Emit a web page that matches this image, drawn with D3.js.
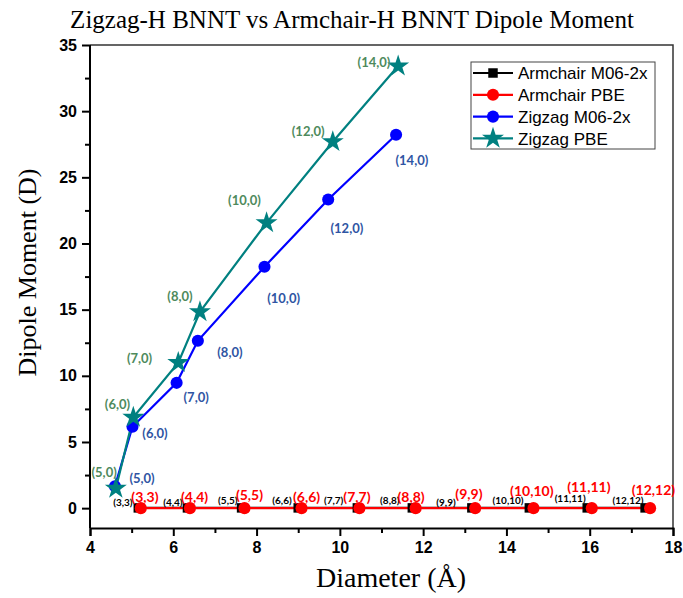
<!DOCTYPE html>
<html><head><meta charset="utf-8">
<script src="https://cdn.jsdelivr.net/npm/d3@7"></script>
<style>body{margin:0;background:#fff}svg{display:block}</style>
</head><body><svg id="c" width="683" height="598"></svg>
<script>
// ---- data ----
const zigzagNames = ["(5,0)","(6,0)","(7,0)","(8,0)","(10,0)","(12,0)","(14,0)"];
const zzM06x = [4.60, 5.02, 6.08, 6.59, 8.19, 9.72, 11.35];
const zzM06y = [1.66, 6.15, 9.47, 12.65, 18.24, 23.33, 28.22];
const zzPBEx = [4.62, 5.04, 6.12, 6.64, 8.24, 9.83, 11.40];
const zzPBEy = [1.49, 6.86, 11.00, 14.84, 21.56, 27.69, 33.41];

const armNames = ["(3,3)","(4,4)","(5,5)","(6,6)","(7,7)","(8,8)","(9,9)","(10,10)","(11,11)","(12,12)"];
const acM06x = [5.16, 6.34, 7.64, 9.00, 10.42, 11.74, 13.17, 14.55, 15.94, 17.33];
const acM06y = [0.02, 0.02, 0.02, 0.02, 0.02, 0.02, 0.02, 0.02, 0.02, 0.02];
const acPBEx = [5.22, 6.40, 7.71, 9.08, 10.47, 11.82, 13.25, 14.65, 16.05, 17.45];
const acPBEy = [0.00, 0.00, 0.00, 0.00, 0.00, 0.00, 0.00, 0.00, 0.00, 0.00];

// annotation anchors (data units)
const zzM06LabX = [5.25, 5.56, 6.55, 7.36, 8.65, 10.17, 11.73];
const zzM06LabY = [2.27, 5.67, 8.39, 11.79, 15.87, 21.16, 26.30];
const zzPBELabX = [4.34, 4.66, 5.19, 6.16, 7.71, 9.24, 10.82];
const zzPBELabY = [2.72, 7.86, 11.34, 16.02, 23.28, 28.50, 33.71];
const acPBELabX = [5.32, 6.51, 7.83, 9.20, 10.41, 11.71, 13.10, 14.61, 15.98, 17.53];
const acPBELabY = [0.83, 0.83, 0.98, 0.83, 0.83, 0.83, 1.06, 1.28, 1.58, 1.40];
const acM06LabX = [4.79, 5.99, 7.31, 8.61, 9.85, 11.20, 12.55, 14.04, 15.53, 16.92];
const acM06LabY = [0.45, 0.45, 0.60, 0.60, 0.60, 0.60, 0.45, 0.55, 0.75, 0.55];

const xTicks = [4, 6, 8, 10, 12, 14, 16, 18];
const yTicks = [0, 5, 10, 15, 20, 25, 30, 35];
const legendNames = ["Armchair M06-2x", "Armchair PBE", "Zigzag M06-2x", "Zigzag PBE"];

// ---- layout ----
const svg = d3.select("#c");
const L = 90, R = 673, T = 45, B = 528;
const x = d3.scaleLinear().domain([4, 18]).range([L, R]);
const y = d3.scaleLinear().domain([-1.5, 35]).range([B, T]);

const col = {blk:"#000000", red:"#ff0000", blue:"#0000ff", teal:"#008080", lblBlue:"#2f55a3", lblGreen:"#4e8a5c"};

// frame (top/right)
svg.append("path").attr("d", `M${L},${T}H${R}V${B}`).attr("fill","none").attr("stroke","#333").attr("stroke-width",1.5);

// axes
const xAxis = svg.append("g").attr("transform", `translate(0,${B})`)
  .call(d3.axisBottom(x).tickValues(xTicks).tickSize(8).tickPadding(6).tickFormat(d3.format("d")));
const xMinor = svg.append("g").attr("transform", `translate(0,${B})`)
  .call(d3.axisBottom(x).tickValues(d3.range(5, 18, 2)).tickSize(5).tickFormat(""));
const yAxis = svg.append("g").attr("transform", `translate(${L},0)`)
  .call(d3.axisLeft(y).tickValues(yTicks).tickSize(8).tickPadding(5).tickFormat(d3.format("d")));
const yMinor = svg.append("g").attr("transform", `translate(${L},0)`)
  .call(d3.axisLeft(y).tickValues(d3.range(2.5, 35, 5)).tickSize(5).tickFormat(""));
[xAxis, xMinor, yAxis, yMinor].forEach(g => {
  g.selectAll(".domain").attr("stroke","#000").attr("stroke-width",2);
  g.selectAll(".tick line").attr("stroke","#000").attr("stroke-width",2);
  g.selectAll("text").attr("font-family","'Liberation Sans', Arial, sans-serif")
    .attr("font-weight","bold").attr("font-size",16).attr("fill","#000");
});
yAxis.select(".domain").attr("d", `M0,${T}V${B}`);
yMinor.select(".domain").remove();
xMinor.select(".domain").remove();

// title & axis titles
const serif = "'Liberation Serif', 'Times New Roman', serif";
svg.append("text").attr("x", 352).attr("y", 28).attr("text-anchor","middle")
  .attr("font-family", serif).attr("font-size",25)
  .text("Zigzag-H BNNT vs Armchair-H BNNT Dipole Moment");
svg.append("text").attr("x", 391).attr("y", 587).attr("text-anchor","middle")
  .attr("font-family", serif).attr("font-size",28)
  .text("Diameter (Å)");
svg.append("text").attr("transform", `translate(36,${(T+B)/2-14}) rotate(-90)`).attr("text-anchor","middle")
  .attr("font-family", serif).attr("font-size",26)
  .text("Dipole Moment (D)");

// ---- series ----
const line = d3.line().x(d => x(d[0])).y(d => y(d[1]));
const zip = (a, b) => a.map((v, i) => [v, b[i]]);

const series = [
  {pts: zip(acM06x, acM06y), color: col.blk, shape: "square"},
  {pts: zip(acPBEx, acPBEy), color: col.red, shape: "circle"},
  {pts: zip(zzM06x, zzM06y), color: col.blue, shape: "circle"},
  {pts: zip(zzPBEx, zzPBEy), color: col.teal, shape: "star"},
];
const symFor = s => s === "square" ? d3.symbol(d3.symbolSquare, 90)
  : s === "star" ? d3.symbol(d3.symbolStar, 150) : d3.symbol(d3.symbolCircle, 115);

series.forEach(s => {
  svg.append("path").attr("d", line(s.pts)).attr("fill","none").attr("stroke", s.color).attr("stroke-width",2.2);
});
series.forEach(s => {
  svg.append("g").selectAll("path").data(s.pts).join("path")
    .attr("transform", d => `translate(${x(d[0])},${y(d[1])})`)
    .attr("d", symFor(s.shape)()).attr("fill", s.color);
});

// ---- annotations ----
function labels(names, lx, ly, color, size) {
  svg.append("g").selectAll("text").data(names).join("text")
    .attr("x", (d, i) => x(lx[i])).attr("y", (d, i) => y(ly[i]))
    .attr("dy", "0.35em").attr("text-anchor","middle")
    .attr("font-family","Lato, 'Open Sans', sans-serif").attr("font-weight","bold")
    .attr("font-size", size).attr("fill", color).text(d => d);
}
labels(zigzagNames, zzM06LabX, zzM06LabY, col.lblBlue, 13);
labels(zigzagNames, zzPBELabX, zzPBELabY, col.lblGreen, 13);
labels(armNames, acM06LabX, acM06LabY, col.blk, 10);
labels(armNames, acPBELabX, acPBELabY, col.red, 14);

// ---- legend ----
const lg = svg.append("g").attr("transform", "translate(471,62)");
lg.append("rect").attr("width", 184).attr("height", 87).attr("fill","#fff").attr("stroke","#444").attr("stroke-width",1);
legendNames.forEach((n, i) => {
  const yy = 11 + i * 21.8;
  const s = series[i];
  lg.append("line").attr("x1", 2).attr("x2", 42).attr("y1", yy).attr("y2", yy).attr("stroke", s.color).attr("stroke-width", 2.2);
  lg.append("path").attr("transform", `translate(22,${yy})`).attr("d", symFor(s.shape)()).attr("fill", s.color);
  lg.append("text").attr("x", 47).attr("y", yy).attr("dy","0.36em")
    .attr("font-family","'Liberation Sans', Arial, sans-serif").attr("font-size",17).text(n);
});
</script></body></html>
